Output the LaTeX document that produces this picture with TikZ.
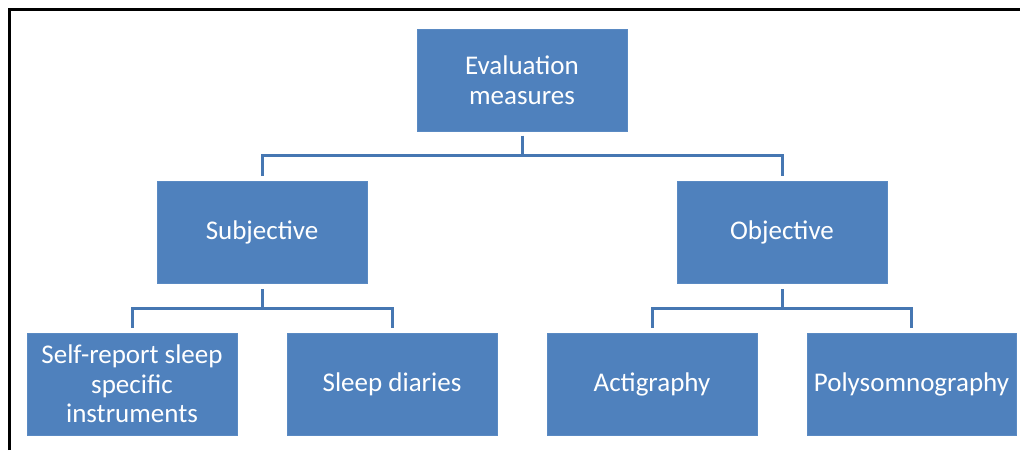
\documentclass[tikz,border=0pt]{standalone}
\usepackage{fontspec}
\setmainfont{Carlito}
\usetikzlibrary{calc}
\definecolor{boxblue}{HTML}{4F81BD}
\definecolor{boxedge}{HTML}{5A8AC3}
\definecolor{lineblue}{HTML}{4677B2}
\tikzset{
  bx/.style={draw=boxedge, line width=1pt, fill=boxblue, text=white,
    minimum width=210pt, minimum height=102pt, inner sep=0pt,
    align=center, font=\fontsize{27}{29.5}\selectfont},
  conn/.style={draw=lineblue, line width=3pt},
  frame/.style={draw=black, line width=2.6pt}
}
\begin{document}
\begin{tikzpicture}[x=1pt,y=-1pt]
\useasboundingbox (0,0) rectangle (1020,450);
\draw[frame] (9.7,450) -- (9.7,9.6) -- (1020,9.6);
\node[bx] (top) at (522,80) {Evaluation\\measures};
\node[bx] (subj) at (262,232.5) {Subjective};
\node[bx] (obj) at (782,232.5) {Objective};
\node[bx] (self) at (132,384) {Self-report sleep\\specific\\instruments};
\node[bx] (diary) at (392,384) {Sleep diaries};
\node[bx] (acti) at (652,384) {Actigraphy};
\node[bx, minimum width=209pt] (poly) at (911.5,384) {Polysomnography};
\coordinate (m1) at (522,155);
\coordinate (m2) at (262,308);
\coordinate (m3) at (782,308);
\draw[conn] ([yshift=-4pt]top.south) -- (m1);
\draw[conn] ([yshift=5pt]subj.north) |- (m1) -| ([yshift=5pt]obj.north);
\draw[conn] ([yshift=-5pt]subj.south) -- (m2);
\draw[conn] ([yshift=5pt]self.north) |- (m2) -| ([yshift=5pt]diary.north);
\draw[conn] ([yshift=-5pt]obj.south) -- (m3);
\draw[conn] ([yshift=5pt]acti.north) |- (m3) -| ([yshift=5pt]poly.north);
\end{tikzpicture}
\end{document}
